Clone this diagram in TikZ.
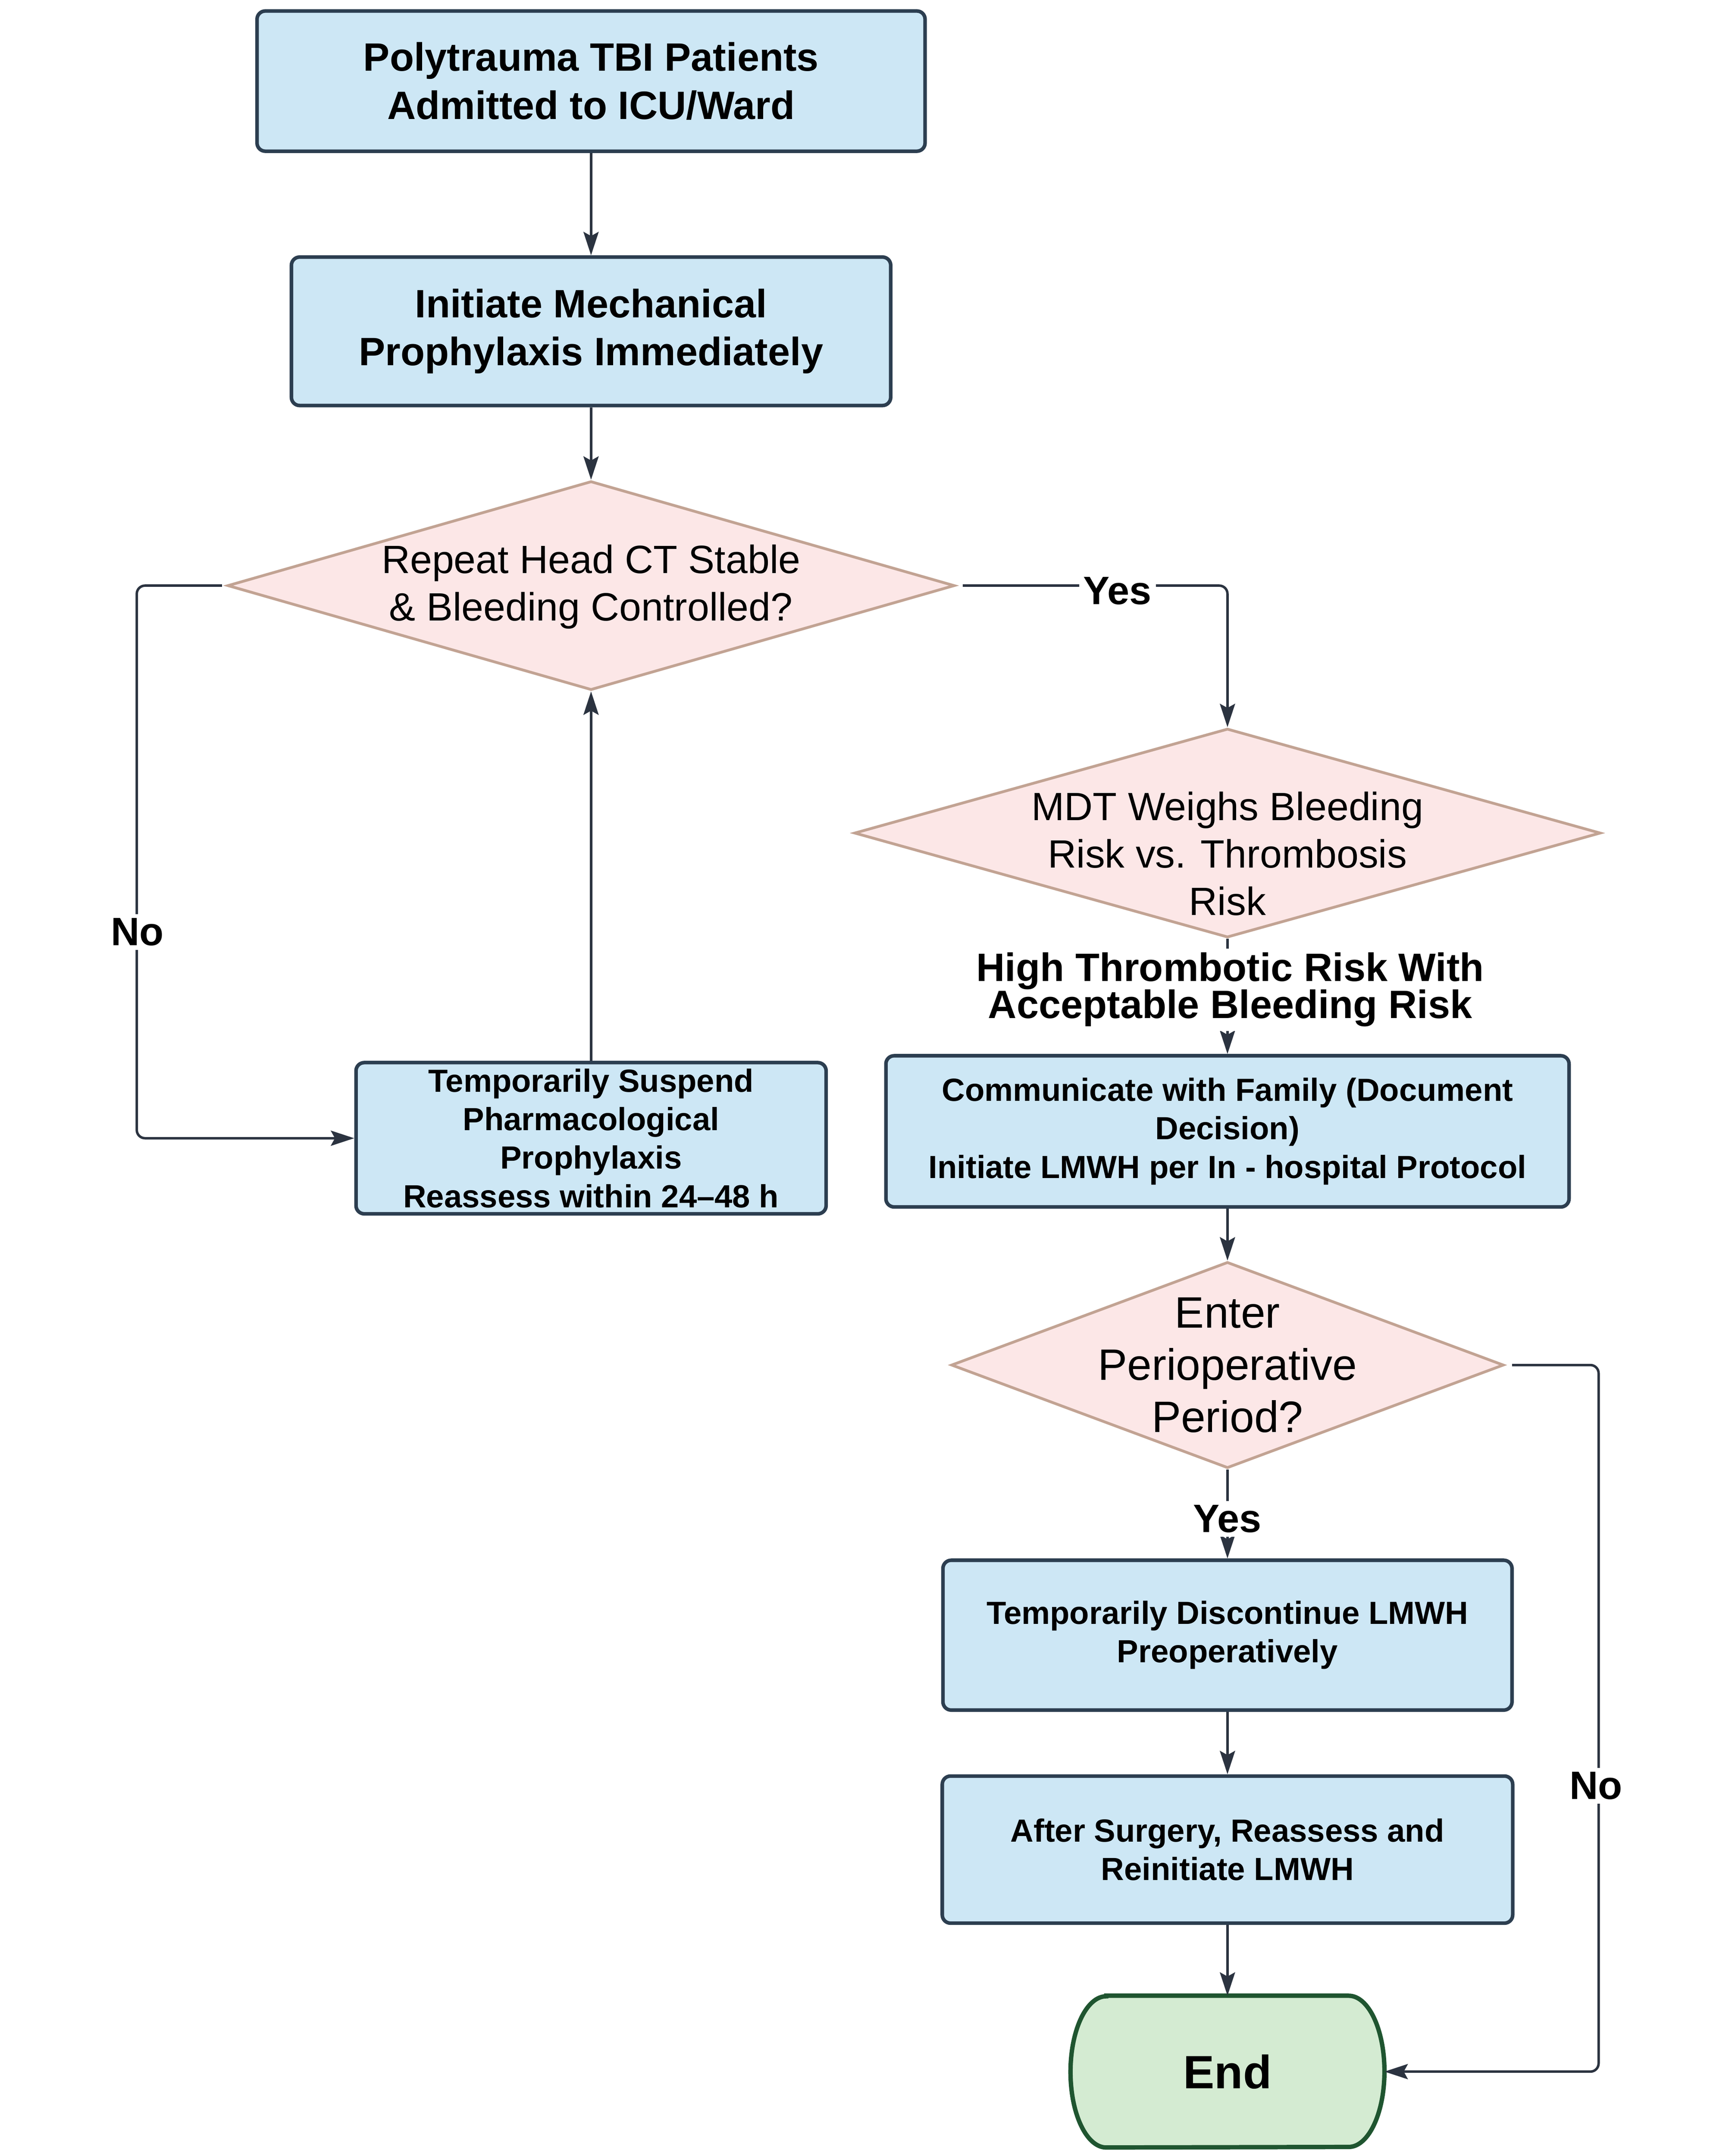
\documentclass[tikz,border=0pt]{standalone}
\usepackage{fontspec}
\setmainfont{Liberation Sans}
\usetikzlibrary{arrows.meta,shapes.geometric}

\definecolor{boxfill}{HTML}{CDE7F5}
\definecolor{boxline}{HTML}{2C3E50}
\definecolor{diafill}{HTML}{FCE7E7}
\definecolor{dialine}{HTML}{C2A393}
\definecolor{endfill}{HTML}{D4EBD2}
\definecolor{endline}{HTML}{1F5530}
\definecolor{arrowc}{HTML}{2B3340}

\begin{document}
\begin{tikzpicture}[x=1pt,y=-1pt,
  procbox/.style={draw=boxline, fill=boxfill, line width=2.6pt, rounded corners=6pt, inner sep=0pt, align=center},
  decision/.style={diamond, draw=dialine, fill=diafill, line width=2pt, inner sep=0pt},
  conn/.style={draw=arrowc, line width=1.8pt, rounded corners=6pt, -{Stealth[length=17pt,width=11pt,inset=3pt]}},
  bigbold/.style={font=\fontsize{28.8}{35}\selectfont\bfseries},
  smallbold/.style={font=\fontsize{23.3}{28}\selectfont\bfseries},
  diatext/.style={align=center, font=\fontsize{28.7}{34.5}\selectfont},
  lab/.style={fill=white, inner sep=3pt, align=center, font=\fontsize{28.8}{27}\selectfont\bfseries}
]
\useasboundingbox[fill=white] (0,0) rectangle (1260,1568.4);

% left column
\node[procbox, bigbold, minimum width=486pt, minimum height=102pt] (b1) at (430,59)
  {Polytrauma TBI Patients\\Admitted to ICU/Ward};
\node[procbox, bigbold, minimum width=436pt, minimum height=108pt] (b2) at (430,241)
  {Initiate Mechanical\\Prophylaxis Immediately};
\node[decision, minimum width=529pt, minimum height=152pt] (d1) at (430,426) {};
\node[diatext] (d1t) at (430,427) {Repeat Head CT Stable\\\& Bleeding Controlled?};
\node[procbox, smallbold, minimum width=342pt, minimum height=110pt] (b6) at (430,828)
  {Temporarily Suspend\\Pharmacological\\Prophylaxis\\Reassess within 24–48 h};

% right column
\node[decision, minimum width=543pt, minimum height=152pt] (d2) at (893,606) {};
\node[diatext] (d2t) at (893,621) {MDT Weighs Bleeding\\Risk vs. Thrombosis\\Risk};
\node[procbox, smallbold, minimum width=497pt, minimum height=110pt] (b3) at (893,823)
  {Communicate with Family (Document\\Decision)\\Initiate LMWH per In - hospital Protocol};
\node[decision, minimum width=402pt, minimum height=150pt] (d3) at (893,993) {};
\node[diatext, font=\fontsize{32}{38}\selectfont] (d3t) at (893,993) {Enter\\Perioperative\\Period?};
\node[procbox, smallbold, minimum width=414pt, minimum height=109pt] (b4) at (893,1189.5)
  {Temporarily Discontinue LMWH\\Preoperatively};
\node[procbox, smallbold, minimum width=415pt, minimum height=107pt] (b5) at (893,1345.5)
  {After Surgery, Reassess and\\Reinitiate LMWH};
\node[minimum width=228pt, minimum height=110pt, inner sep=0pt] (end) at (893,1507) {};
\draw[endline, fill=endfill, line width=3.2pt]
  ([xshift=26pt]end.north west) -- ([xshift=-26pt]end.north east)
  arc[start angle=90, end angle=-90, x radius=26pt, y radius=55pt]
  -- ([xshift=26pt]end.south west)
  arc[start angle=270, end angle=90, x radius=26pt, y radius=55pt] -- cycle;
\node[font=\fontsize{34}{40}\selectfont\bfseries] (endt) at (end) {End};

% connectors
\draw[conn] (b1.south) -- (b2.north);
\draw[conn] (b2.south) -- (d1.north);
\draw[conn, shorten <=5pt] (d1.east) -| (d2.north);
\draw[conn] (d2.south) -- (b3.north);
\draw[conn] (b3.south) -- (d3.north);
\draw[conn] (d3.south) -- (b4.north);
\draw[conn] (b4.south) -- (b5.north);
\draw[conn] (b5.south) -- (end.north);
\draw[conn] (b6.north) -- (d1.south);
\draw[conn, shorten <=3pt] (d1.west) -- ++(-65,0) |- (b6.west);
\draw[conn, shorten <=5pt] (d3.east) -- ++(68,0) |- (end.east);

% labels
\node[lab] (yes1) at (813,430) {Yes};
\node[lab] (hr) at (895,720) {High Thrombotic Risk With\\Acceptable Bleeding Risk};
\node[lab] (yes2) at (893,1105) {Yes};
\node[lab] (no1) at (100,678) {No};
\node[lab] (no2) at (1161,1299) {No};
\end{tikzpicture}
\end{document}
